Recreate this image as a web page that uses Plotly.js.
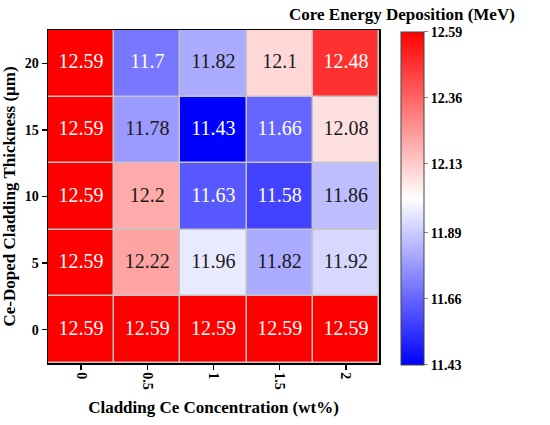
<!DOCTYPE html>
<html>
<head>
<meta charset="utf-8">
<script src="https://cdn.plot.ly/plotly-3.0.1.min.js"></script>
<style>html,body{margin:0;padding:0;background:#fff;}#chart{width:550px;height:425px;}</style>
</head>
<body>
<div id="chart"></div>
<script>
var concentrations = [0, 0.5, 1, 1.5, 2];
var thicknesses = [0, 5, 10, 15, 20];
var row0 = [12.59, 12.59, 12.59, 12.59, 12.59];
var row5 = [12.59, 12.22, 11.96, 11.82, 11.92];
var row10 = [12.59, 12.2, 11.63, 11.58, 11.86];
var row15 = [12.59, 11.78, 11.43, 11.66, 12.08];
var row20 = [12.59, 11.7, 11.82, 12.1, 12.48];
var cbTicks = [11.43, 11.66, 11.89, 12.13, 12.36, 12.59];
var zMin = 11.43, zMax = 12.59;

var z = [row0, row5, row10, row15, row20];

var tx = [], ty = [], tt = [], tc = [];
for (var i = 0; i < thicknesses.length; i++) {
  for (var j = 0; j < concentrations.length; j++) {
    var v = z[i][j];
    tx.push(concentrations[j]);
    ty.push(thicknesses[i]);
    tt.push(String(v));
    tc.push((v <= 11.7 || v >= 12.4) ? '#ffffff' : '#1a1a1a');
  }
}

var serif = 'Liberation Serif, Times New Roman, serif';

var heat = {
  type: 'heatmap',
  x: concentrations,
  y: thicknesses,
  z: z,
  zmin: zMin,
  zmax: zMax,
  xgap: 1.5,
  ygap: 1.5,
  colorscale: [[0, 'rgb(0,0,255)'], [0.5, 'rgb(255,255,255)'], [1, 'rgb(255,0,0)']],
  hoverinfo: 'none',
  colorbar: {
    x: 1.066, xanchor: 'left', xref: 'paper',
    y: 0.495, yanchor: 'middle',
    len: 1.0, lenmode: 'fraction',
    thickness: 23, thicknessmode: 'pixels',
    outlinecolor: '#444', outlinewidth: 1,
    tickmode: 'array', tickvals: cbTicks, ticktext: cbTicks.map(function(t){return t.toFixed(2);}),
    ticks: 'outside', ticklen: 4, tickcolor: '#888', tickwidth: 1,
    tickfont: {family: serif, size: 14, color: '#000', weight: 'bold'},
    ypad: 0, xpad: 0
  }
};

var labels = {
  type: 'scatter', mode: 'text',
  x: tx, y: ty, text: tt,
  textfont: {family: serif, size: 20, color: tc},
  hoverinfo: 'none', showlegend: false
};

var layout = {
  width: 550, height: 425,
  margin: {l: 48, r: 171, t: 30, b: 62},
  paper_bgcolor: '#ffffff',
  plot_bgcolor: '#c4c4c4',
  showlegend: false,
  xaxis: {
    range: [-0.25, 2.25],
    tickmode: 'array', tickvals: concentrations, ticktext: concentrations.map(String),
    tickangle: 90,
    ticks: 'outside', ticklen: 5, tickwidth: 1.5, tickcolor: '#000',
    showline: true, linecolor: '#000', linewidth: 1.5, mirror: true,
    showgrid: false, zeroline: false,
    tickfont: {family: serif, size: 14, color: '#000', weight: 'bold'},
    title: {text: 'Cladding Ce Concentration (wt%)', font: {family: serif, size: 17, color: '#000', weight: 'bold'}, standoff: 12}
  },
  yaxis: {
    range: [-2.5, 22.5],
    tickmode: 'array', tickvals: thicknesses, ticktext: thicknesses.map(String),
    ticks: 'outside', ticklen: 5, tickwidth: 1.5, tickcolor: '#000',
    showline: true, linecolor: '#000', linewidth: 1.5, mirror: true,
    showgrid: false, zeroline: false,
    tickfont: {family: serif, size: 14, color: '#000', weight: 'bold'},
    title: {text: 'Ce-Doped Cladding Thickness (μm)', font: {family: serif, size: 17, color: '#000', weight: 'bold'}, standoff: 6}
  },
  annotations: [{
    xref: 'paper', yref: 'paper',
    x: 1.418, y: 1.0, xanchor: 'right', yanchor: 'bottom', yshift: 4,
    text: 'Core Energy Deposition (MeV)', showarrow: false,
    font: {family: serif, size: 17, color: '#000', weight: 'bold'}
  }]
};

Plotly.newPlot('chart', [heat, labels], layout, {staticPlot: true, displayModeBar: false});
</script>
</body>
</html>
